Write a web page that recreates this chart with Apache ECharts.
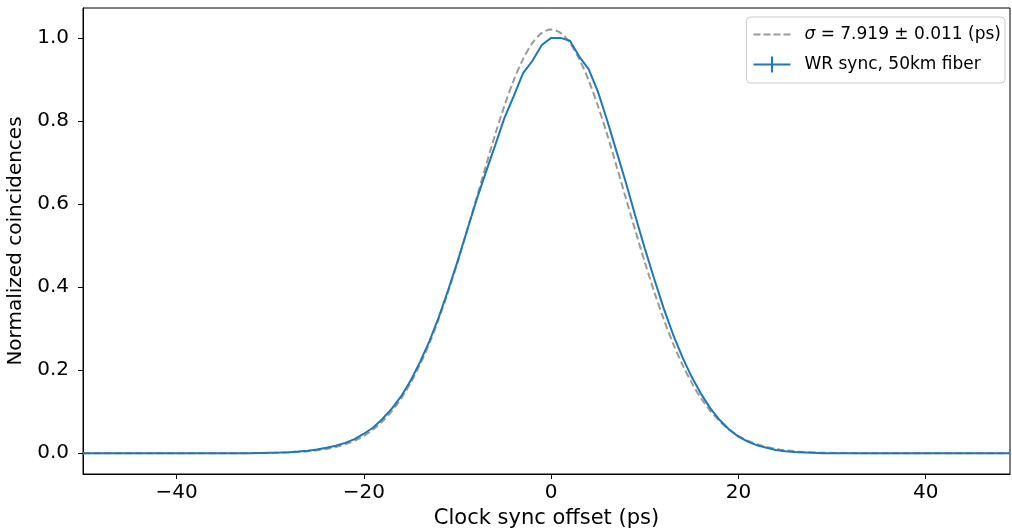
<!DOCTYPE html>
<html>
<head>
<meta charset="utf-8">
<script src="https://cdn.jsdelivr.net/npm/echarts@6/dist/echarts.min.js"></script>
<style>
  html, body { margin: 0; padding: 0; background: #fff; }
  #chart { width: 1012px; height: 531px; }
</style>
</head>
<body>
<div id="chart"></div>
<script>
// clock sync offset in ps (x positions of both curves)
const offsets = [
  -50, -49, -48, -47, -46, -45, -44, -43, -42, -41,
  -40, -39, -38, -37, -36, -35, -34, -33, -32, -31,
  -30, -29, -28, -27, -26, -25, -24, -23, -22, -21,
  -20, -19, -18, -17, -16, -15, -14, -13, -12, -11,
  -10, -9, -8, -7, -6, -5, -4, -3, -2, -1,
  0, 1, 2, 3, 4, 5, 6, 7, 8, 9,
  10, 11, 12, 13, 14, 15, 16, 17, 18, 19,
  20, 21, 22, 23, 24, 25, 26, 27, 28, 29,
  30, 31, 32, 33, 34, 35, 36, 37, 38, 39,
  40, 41, 42, 43, 44, 45, 46, 47, 48, 49
];

// gaussian fit (dashed grey)
const fitValues = [
  0, 0, 0, 0, 0, 0, 0, 0, 0, 0,
  0, 0, 0, 0, 0, 0, 0.0001, 0.0002, 0.0003, 0.0005,
  0.0008, 0.0012, 0.0019, 0.003, 0.0047, 0.007, 0.0103, 0.015, 0.0215, 0.030,
  0.042, 0.057, 0.077, 0.102, 0.1325, 0.170, 0.214, 0.265, 0.324, 0.389,
  0.460, 0.535, 0.612, 0.690, 0.766, 0.836, 0.898, 0.949, 0.988, 1.012,
  1.020, 1.012, 0.988, 0.949, 0.898, 0.836, 0.766, 0.690, 0.612, 0.535,
  0.460, 0.389, 0.324, 0.265, 0.214, 0.170, 0.1325, 0.102, 0.077, 0.057,
  0.042, 0.030, 0.0215, 0.015, 0.0103, 0.007, 0.0047, 0.003, 0.0019, 0.0012,
  0.0008, 0.0005, 0.0003, 0.0002, 0.0001, 0, 0, 0, 0, 0,
  0, 0, 0, 0, 0, 0, 0, 0, 0, 0
];

// measured coincidences, WR sync over 50 km fiber
const syncValues = [
  0, 0, 0, 0, 0, 0, 0, 0, 0, 0,
  0, 0, 0, 0, 0, 0, 0, 0, 0, 0.0005,
  0.001, 0.0015, 0.0025, 0.004, 0.006, 0.009, 0.013, 0.018, 0.025, 0.034,
  0.047, 0.062, 0.083, 0.108, 0.138, 0.175, 0.22, 0.27, 0.328, 0.393,
  0.462, 0.535, 0.608, 0.675, 0.74, 0.807, 0.86, 0.915, 0.945, 0.983,
  1.0, 1.0, 0.993, 0.955, 0.925, 0.87, 0.8, 0.725, 0.65, 0.57,
  0.493, 0.42, 0.35, 0.287, 0.232, 0.184, 0.143, 0.108, 0.08, 0.057,
  0.04, 0.028, 0.019, 0.013, 0.008, 0.005, 0.003, 0.002, 0.001, 0,
  0, 0, 0, 0, 0, 0, 0, 0, 0, 0,
  0, 0, 0, 0, 0, 0, 0, 0, 0, 0
];

const xTicks = [-40, -20, 0, 20, 40];
const yTicks = [0, 0.2, 0.4, 0.6, 0.8, 1.0];

const font = "DejaVu Sans";
const chart = echarts.init(document.getElementById("chart"), null, { renderer: "canvas" });

const option = {
  animation: false,
  backgroundColor: "#fff",
  grid: {
    left: 83,
    right: 2,
    top: 8,
    bottom: 57,
    outerBoundsMode: "none",
    containLabel: false,
    show: true,
    borderColor: "#000",
    borderWidth: 1,
    backgroundColor: "transparent",
  },
  legend: {
    orient: "vertical",
    right: 7,
    top: 17,
    align: "left",
    itemWidth: 37,
    itemHeight: 16,
    itemGap: 13,
    padding: [9, 4, 10, 7],
    borderColor: "#cccccc",
    borderWidth: 1,
    borderRadius: 4,
    backgroundColor: "#fff",
    itemStyle: { borderWidth: 0 },
    textStyle: {
      fontFamily: font,
      fontSize: 17,
      color: "#000",
      padding: [0, 0, 0, 9],
      rich: {
        i: { fontFamily: font, fontSize: 17, fontStyle: "italic", color: "#000" },
      },
    },
    formatter: function (name) {
      return name === "sigma" ? "{i|σ} = 7.919 ± 0.011 (ps)" : name;
    },
    data: [
      {
        name: "sigma",
        icon: "path://M0,0 M37,16 M0,7 H7 V9 H0 Z M10,7 H17 V9 H10 Z M20,7 H27 V9 H20 Z M30,7 H37 V9 H30 Z",
      },
      {
        name: "WR sync, 50km fiber",
        icon: "path://M0,0 M37,16 M0,7 H37 V9 H0 Z M17.5,0 H19.5 V16 H17.5 Z",
      },
    ],
  },
  xAxis: {
    type: "value",
    min: -50,
    max: 49,
    name: "Clock sync offset (ps)",
    nameLocation: "middle",
    nameGap: 33,
    nameTextStyle: { fontFamily: font, fontSize: 21, color: "#000" },
    axisLine: { show: true, onZero: false, lineStyle: { color: "#000", width: 1 } },
    axisTick: {
      show: true,
      length: 5,
      inside: false,
      customValues: xTicks,
      lineStyle: { color: "#000", width: 1 },
    },
    axisLabel: {
      fontFamily: font,
      fontSize: 20,
      color: "#000",
      margin: 9,
      customValues: xTicks,
      formatter: function (v) {
        return String(v).replace("-", "\u2212");
      },
    },
    splitLine: { show: false },
  },
  yAxis: {
    type: "value",
    min: -0.05,
    max: 1.072,
    name: "Normalized coincidences",
    nameLocation: "middle",
    nameGap: 53,
    nameTextStyle: { fontFamily: font, fontSize: 20, color: "#000" },
    axisLine: { show: true, onZero: false, lineStyle: { color: "#000", width: 1 } },
    axisTick: {
      show: true,
      length: 5,
      inside: false,
      customValues: yTicks,
      lineStyle: { color: "#000", width: 1 },
    },
    axisLabel: {
      fontFamily: font,
      fontSize: 20,
      color: "#000",
      margin: 14,
      customValues: yTicks,
      formatter: function (v) {
        return v.toFixed(1);
      },
    },
    splitLine: { show: false },
  },
  series: [
    {
      name: "sigma",
      type: "line",
      data: offsets.map((x, i) => [x, fitValues[i]]),
      showSymbol: false,
      symbol: "none",
      smooth: 0.3,
      itemStyle: { color: "#9a9a9a" },
      lineStyle: { color: "#9a9a9a", width: 2, type: [7, 3.5] },
      z: 2,
    },
    {
      name: "WR sync, 50km fiber",
      type: "line",
      data: offsets.map((x, i) => [x, syncValues[i]]),
      showSymbol: false,
      symbol: "none",
      itemStyle: { color: "#1f77b4" },
      lineStyle: { color: "#1f77b4", width: 2 },
      z: 3,
    },
  ],
};

chart.setOption(option);
</script>
</body>
</html>
